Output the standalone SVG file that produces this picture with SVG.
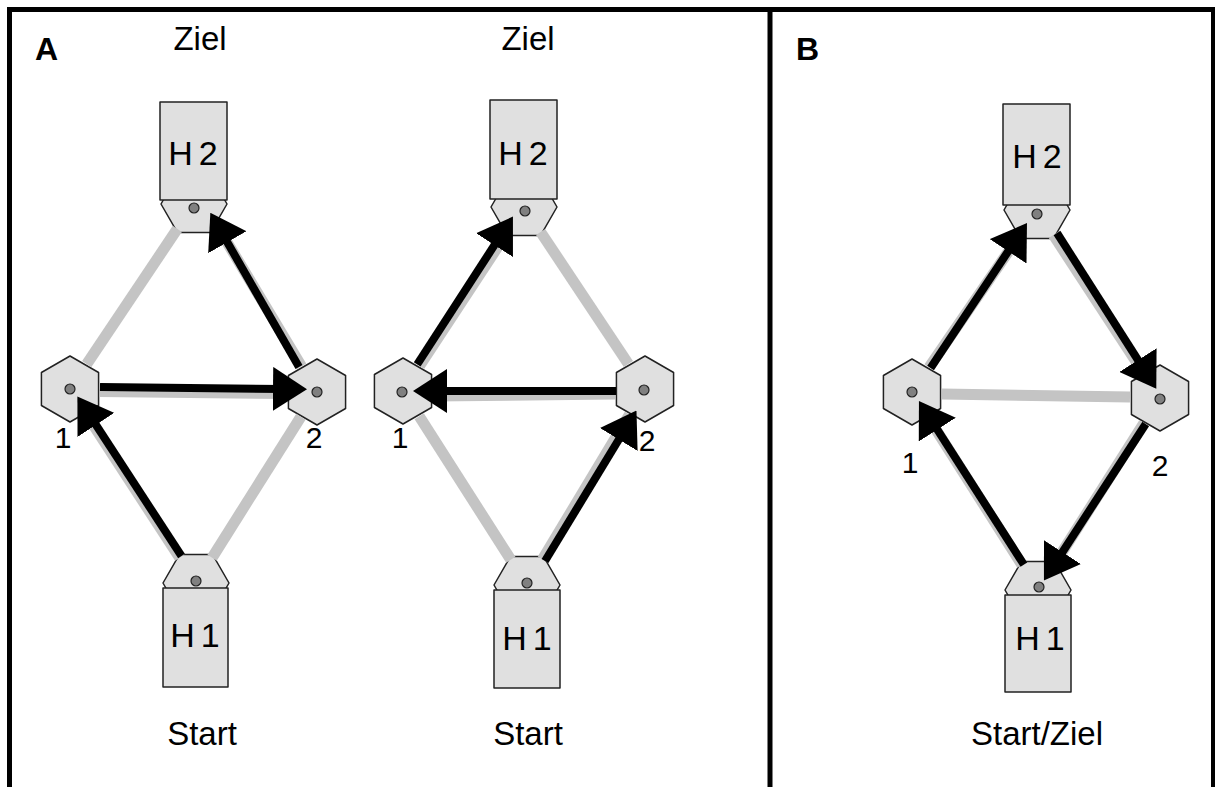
<svg xmlns="http://www.w3.org/2000/svg" width="1215" height="787" viewBox="0 0 1215 787">
  <style>
    .frame { fill: none; stroke: #000; stroke-width: 5; }
    .shape { fill: #e0e0e0; stroke: #222; stroke-width: 1.5; stroke-linejoin: round; }
    .dot { fill: #808080; stroke: #222; stroke-width: 1.2; }
    .base { stroke: #c4c4c4; stroke-width: 11; fill: none; }
    .arrow { stroke: #000; stroke-width: 8; fill: none; marker-end: url(#head); }
    .lbl { font-family: "Liberation Sans", Arial, sans-serif; font-size: 33px; fill: #000; text-anchor: middle; }
    .num { font-family: "Liberation Sans", Arial, sans-serif; font-size: 30px; fill: #000; text-anchor: middle; }
    .hl { font-family: "Liberation Sans", Arial, sans-serif; font-size: 34px; fill: #000; text-anchor: middle; letter-spacing: 6px; }
    .panel { font-family: "Liberation Sans", Arial, sans-serif; font-size: 32px; font-weight: bold; fill: #000; }
  </style>
  <defs>
    <marker id="head" markerUnits="userSpaceOnUse" markerWidth="34" markerHeight="44" viewBox="0 0 34 44" refX="10" refY="22" orient="auto">
      <path d="M0,0 L34,22 L0,44 Z" fill="#000"/>
    </marker>
    <!-- pointy-top hexagon for junction nodes -->
    <polygon id="hexV" points="0,-33 28.58,-16.5 28.58,16.5 0,33 -28.58,16.5 -28.58,-16.5"/>
    <!-- flat-top hexagon used as cap of the H boxes -->
    <polygon id="hexF" points="33,0 16.5,28.58 -16.5,28.58 -33,0 -16.5,-28.58 16.5,-28.58"/>
  </defs>

  <rect width="1215" height="787" fill="#fff"/>

  <!-- outer frame and divider -->
  <path class="frame" d="M9.5,787 V9.5 H1213.5 V787"/>
  <line class="frame" x1="770" y1="9.5" x2="770" y2="787"/>

  <text class="panel" x="35" y="60">A</text>
  <text class="panel" x="796" y="60">B</text>

  <!-- ===== Panel A, left ===== -->
  <g id="a1-h2">
    <use href="#hexF" class="shape" x="194" y="204"/>
    <rect class="shape" x="160" y="102" width="67" height="98"/>
    <circle class="dot" cx="194" cy="208" r="5"/>
    <text class="hl" x="196" y="165">H2</text>
  </g>
  <g id="a1-h1">
    <use href="#hexF" class="shape" x="196" y="583"/>
    <rect class="shape" x="163" y="588" width="65" height="99"/>
    <circle class="dot" cx="196" cy="581" r="5"/>
    <text class="hl" x="198" y="647">H1</text>
  </g>
  <g id="a1-n1">
    <use href="#hexV" class="shape" x="70" y="389"/>
    <circle class="dot" cx="70" cy="389" r="5"/>
    <text class="num" x="63" y="448">1</text>
  </g>
  <g id="a1-n2">
    <use href="#hexV" class="shape" x="317" y="392"/>
    <circle class="dot" cx="317" cy="392" r="5"/>
    <text class="num" x="314" y="448">2</text>
  </g>
  <text class="lbl" x="200" y="50">Ziel</text>
  <text class="lbl" x="202" y="745">Start</text>

  <!-- ===== Panel A, right ===== -->
  <g id="a2-h2">
    <use href="#hexF" class="shape" x="524" y="207"/>
    <rect class="shape" x="490" y="100" width="67" height="99"/>
    <circle class="dot" cx="525" cy="211" r="5"/>
    <text class="hl" x="526" y="165">H2</text>
  </g>
  <g id="a2-h1">
    <use href="#hexF" class="shape" x="527" y="585"/>
    <rect class="shape" x="494" y="590" width="66" height="98"/>
    <circle class="dot" cx="527" cy="583" r="5"/>
    <text class="hl" x="530" y="650">H1</text>
  </g>
  <g id="a2-n1">
    <use href="#hexV" class="shape" x="403" y="391"/>
    <circle class="dot" cx="402" cy="392" r="5"/>
    <text class="num" x="400" y="448">1</text>
  </g>
  <g id="a2-n2">
    <use href="#hexV" class="shape" x="645" y="389"/>
    <circle class="dot" cx="644" cy="390" r="5"/>
    <text class="num" x="647" y="451">2</text>
  </g>
  <text class="lbl" x="528" y="50">Ziel</text>
  <text class="lbl" x="528" y="745">Start</text>

  <!-- ===== Panel B ===== -->
  <g id="b-h2">
    <use href="#hexF" class="shape" x="1037" y="210"/>
    <rect class="shape" x="1003" y="104" width="67" height="101"/>
    <circle class="dot" cx="1037" cy="214" r="5"/>
    <text class="hl" x="1040" y="168">H2</text>
  </g>
  <g id="b-h1">
    <use href="#hexF" class="shape" x="1038" y="590"/>
    <rect class="shape" x="1005" y="595" width="66" height="97"/>
    <circle class="dot" cx="1039" cy="587" r="5"/>
    <text class="hl" x="1043" y="650">H1</text>
  </g>
  <g id="b-n1">
    <use href="#hexV" class="shape" x="912" y="392"/>
    <circle class="dot" cx="912" cy="392" r="5"/>
    <text class="num" x="910" y="473">1</text>
  </g>
  <g id="b-n2">
    <use href="#hexV" class="shape" x="1160" y="398"/>
    <circle class="dot" cx="1160" cy="399" r="5"/>
    <text class="num" x="1160" y="476">2</text>
  </g>
  <text class="lbl" x="1037" y="745">Start/Ziel</text>

  <!-- connectors: grey links, black directed moves on top -->
  <g id="connectors">
    <!-- A left -->
    <line class="base" x1="86.7" y1="364.1" x2="177.3" y2="228.9"/>
    <line class="base" x1="212.1" y1="557.7" x2="300.9" y2="416.7"/>
    <line class="base" x1="100" y1="391.5" x2="287" y2="393.5"/>
    <line class="base" x1="179.7" y1="557.8" x2="86.3" y2="414.2"/>
    <line class="base" x1="301.5" y1="366.3" x2="219.5" y2="229.7"/>
    <line class="arrow" x1="181.5" y1="556" x2="90.5" y2="416.5"/>
    <line class="arrow" x1="100" y1="387" x2="283" y2="389"/>
    <line class="arrow" x1="299" y1="367" x2="222.3" y2="233.6"/>

    <!-- A right -->
    <line class="base" x1="419.5" y1="365.9" x2="507.5" y2="232.1"/>
    <line class="base" x1="540.6" y1="232" x2="628.4" y2="364"/>
    <line class="base" x1="615" y1="394" x2="433" y2="396"/>
    <line class="base" x1="419.2" y1="416.3" x2="510.8" y2="559.7"/>
    <line class="base" x1="542.5" y1="559.3" x2="629.5" y2="414.7"/>
    <line class="arrow" x1="417.2" y1="364.4" x2="499.9" y2="236.7"/>
    <line class="arrow" x1="616" y1="391" x2="437" y2="391"/>
    <line class="arrow" x1="545" y1="561" x2="624" y2="431"/>

    <!-- B -->
    <line class="base" x1="929" y1="367.3" x2="1020" y2="234.7"/>
    <line class="base" x1="1053.4" y1="235.1" x2="1143.6" y2="372.9"/>
    <line class="base" x1="942" y1="394" x2="1130" y2="397"/>
    <line class="base" x1="1143.9" y1="423.3" x2="1054.1" y2="564.7"/>
    <line class="base" x1="1021.9" y1="564.7" x2="928.1" y2="417.3"/>
    <line class="arrow" x1="930.6" y1="368" x2="1013.7" y2="243"/>
    <line class="arrow" x1="1057" y1="233" x2="1143.4" y2="368.5"/>
    <line class="arrow" x1="1145.7" y1="424" x2="1057" y2="560.5"/>
    <line class="arrow" x1="1023.9" y1="564.7" x2="931.9" y2="421.2"/>
  </g>
</svg>
